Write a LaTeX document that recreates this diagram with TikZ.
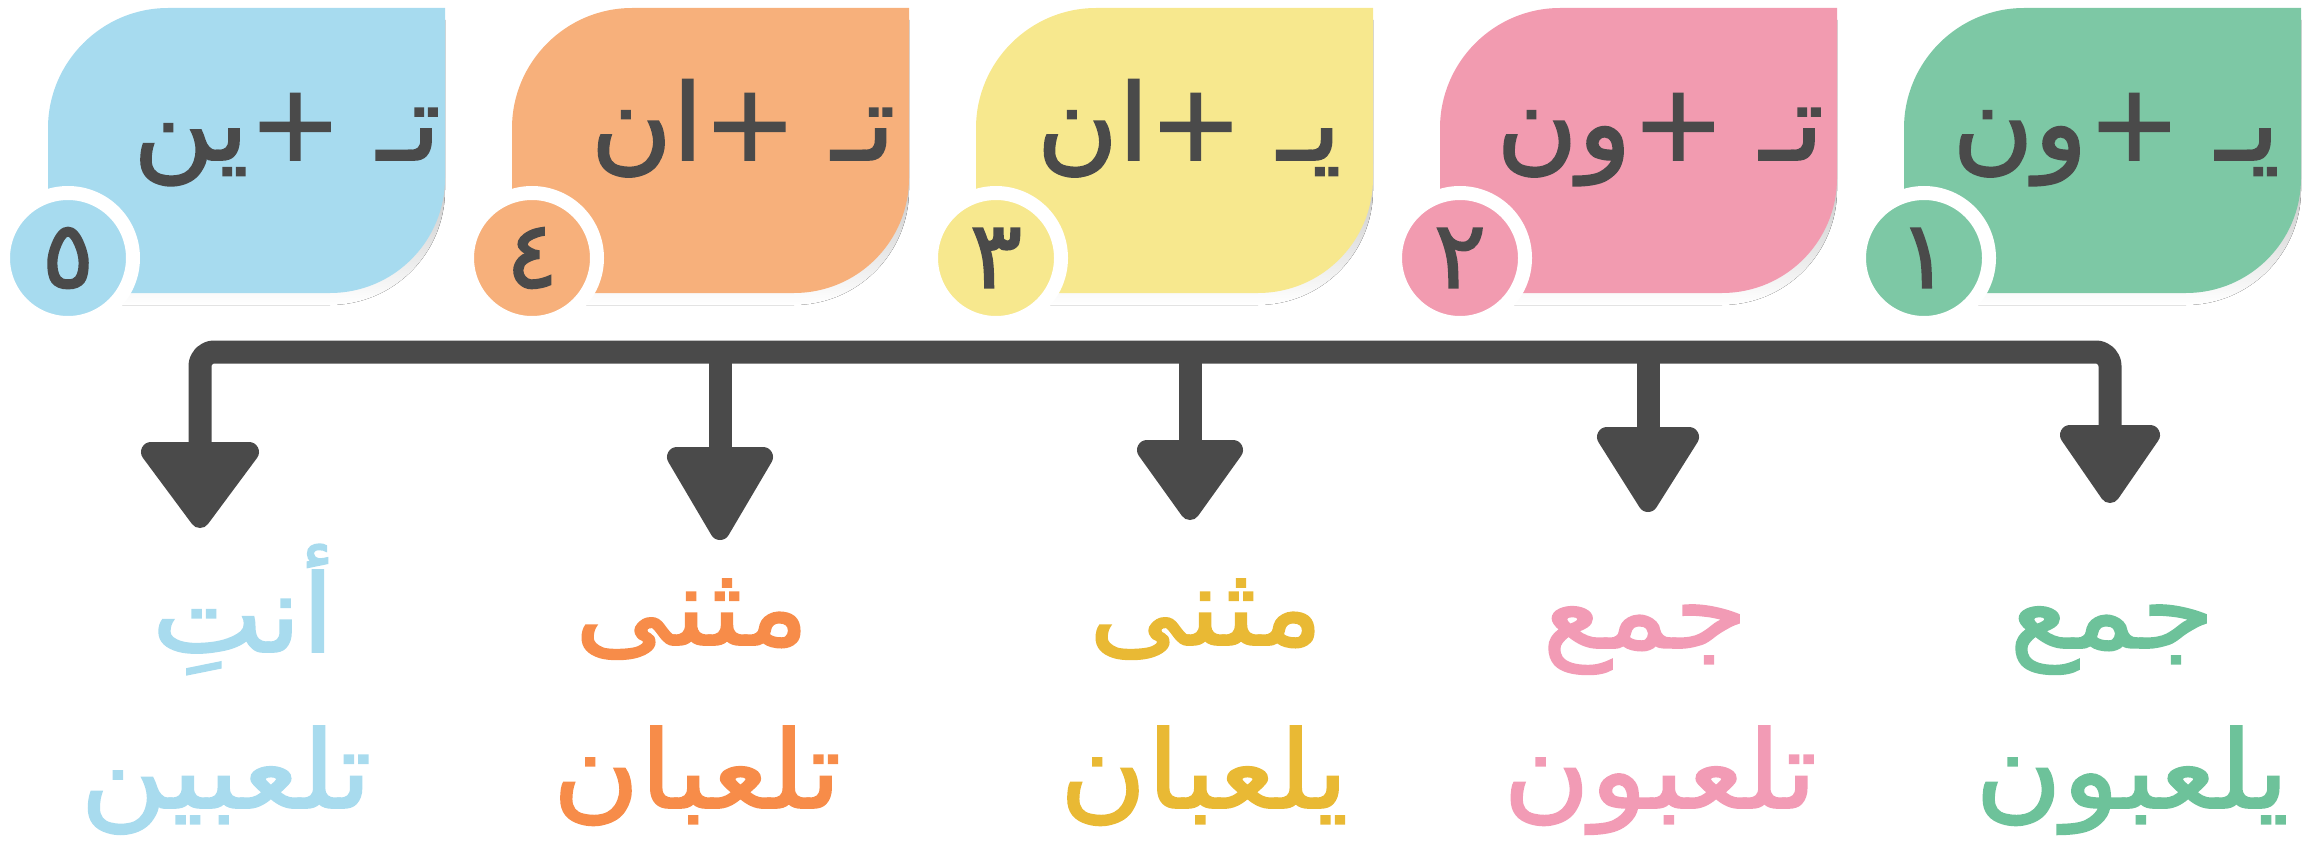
\documentclass[tikz,border=0pt]{standalone}
\usepackage{fontspec}
\newfontfamily\cardfont[Script=Arabic, FakeStretch=1.05, FakeBold=1.6]{DejaVu Sans}
\newfontfamily\labelfont[Script=Arabic, FakeStretch=1.1, FakeBold=1.6]{DejaVu Sans}
\TeXXeTstate=1
\definecolor{ink}{HTML}{4A4A4A}
\definecolor{shade}{HTML}{DADADA}
\definecolor{cgreen}{HTML}{7DC8A5}
\definecolor{cpink}{HTML}{F29BB0}
\definecolor{cyellow}{HTML}{F7E88E}
\definecolor{corange}{HTML}{F7B07B}
\definecolor{cblue}{HTML}{A7DBEF}
\definecolor{tgreen}{HTML}{6DC29A}
\definecolor{tpink}{HTML}{F29BB5}
\definecolor{tyellow}{HTML}{E9B934}
\definecolor{torange}{HTML}{F78C49}
\definecolor{tblue}{HTML}{A8DBEE}
\tikzset{
  cardtext/.style={font=\cardfont\fontsize{106}{116}\selectfont, text=ink, inner sep=0pt, anchor=base},
  numcircle/.style={circle, draw=white, line width=14pt, minimum size=130pt, inner sep=0pt,
                    font=\cardfont\fontsize{94}{100}\selectfont, text=ink},
  labeltext/.style={font=\labelfont\fontsize{108}{116}\selectfont, inner sep=0pt, anchor=base},
  conn/.style={draw=ink, line width=23pt, line join=round},
  headstyle/.style={fill=ink, draw=ink, line width=20pt, line join=round},
}
\begin{document}
\begin{tikzpicture}[x=1pt,y=-1pt]
\useasboundingbox (0,0) rectangle (2304,848);
% cards
\foreach \i/\L/\col/\txt/\tx/\num in {
  1/1904/cgreen/{يـ +ون}/2116/١,
  2/1440/cpink/{تـ +ون}/1660/٢,
  3/976/cyellow/{يـ +ان}/1189/٣,
  4/512/corange/{تـ +ان}/743/٤,
  5/48/cblue/{تـ +ين}/287/٥}{
  \begin{scope}[shift={(0,12)}]
    \fill[shade] (\L,293) -- (\L,128) .. controls (\L,62) and (\L+54,8) .. (\L+120,8)
      -- (\L+397,8) -- (\L+397,178) .. controls (\L+397,241.5) and (\L+345.5,293) .. (\L+282,293) -- cycle;
  \end{scope}
  \fill[\col] (\L,293) -- (\L,128) .. controls (\L,62) and (\L+54,8) .. (\L+120,8)
      -- (\L+397,8) -- (\L+397,178) .. controls (\L+397,241.5) and (\L+345.5,293) .. (\L+282,293) -- cycle;
  \node[cardtext] (t\i) at (\tx,160) {\beginR\txt\endR};
  \node[numcircle, fill=\col] (n\i) at (\L+20,258) {\num};
}
% connector bar and branches
\coordinate (b1) at (2110,352);
\coordinate (b2) at (1648,352);
\coordinate (b3) at (1190,352);
\coordinate (b4) at (720,352);
\coordinate (b5) at (200,352);
\coordinate (h1) at (2110,432);
\coordinate (h2) at (1648,434);
\coordinate (h3) at (1190,447);
\coordinate (h4) at (720,454);
\coordinate (h5) at (200,449);
\draw[conn, rounded corners=14pt] (h5) -- (b5) -- (b1) -- (h1);
\draw[conn] (b2) -- (h2);
\draw[conn] (b3) -- (h3);
\draw[conn] (b4) -- (h4);
% arrow heads
\foreach \x/\t/\p/\w in {2110/425/505/100, 1648/427/514/102, 1190/440/522/106, 720/447/542/106, 200/442/530/118}{
  \filldraw[headstyle] (\x-\w/2+10,\t+10) -- (\x+\w/2-10,\t+10) -- (\x,\p-12) -- cycle;
}
% labels
\node[labeltext, text=tgreen] (a1) at (2112,648) {\beginR جمع\endR};
\node[labeltext, text=tgreen] (c1) at (2132,808) {\beginR يلعبون\endR};
\node[labeltext, text=tpink] (a2) at (1645,648) {\beginR جمع\endR};
\node[labeltext, text=tpink] (c2) at (1660,808) {\beginR تلعبون\endR};
\node[labeltext, text=tyellow] (a3) at (1206,645) {\beginR مثنى\endR};
\node[labeltext, text=tyellow] (c3) at (1204,808) {\beginR يلعبان\endR};
\node[labeltext, text=torange] (a4) at (692,645) {\beginR مثنى\endR};
\node[labeltext, text=torange] (c4) at (697,808) {\beginR تلعبان\endR};
\node[labeltext, text=tblue] (a5) at (243,652) {\beginR أنتِ\endR};
\node[labeltext, text=tblue] (c5) at (226,808) {\beginR تلعبين\endR};
\end{tikzpicture}
\end{document}
